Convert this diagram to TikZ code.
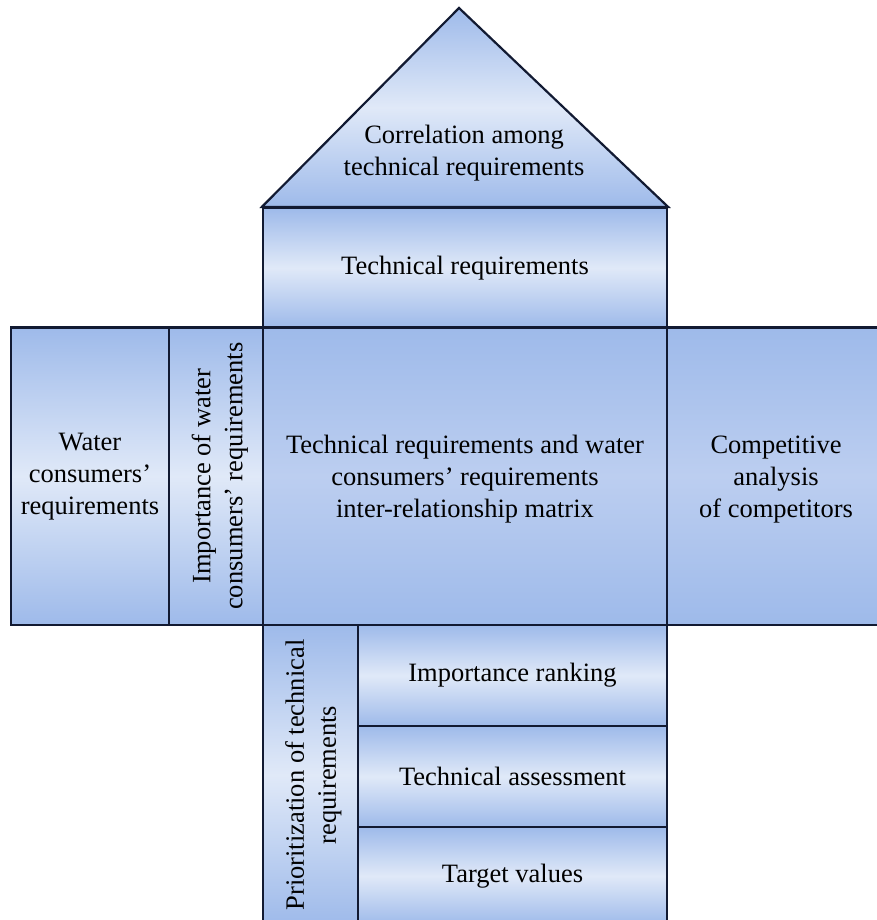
\documentclass[tikz,border=0pt]{standalone}
\usepackage{fontspec}
\setmainfont{Liberation Serif}
\definecolor{edgeblue}{RGB}{158,186,234}
\definecolor{lightblue}{RGB}{224,233,248}
\definecolor{midblue}{RGB}{188,206,240}
\definecolor{linecol}{RGB}{18,26,50}
\tikzset{
  base/.style={draw=linecol, line width=2.2pt, inner sep=0pt, align=center,
    font=\fontsize{26.5}{32}\selectfont},
  hbox/.style={base, top color=edgeblue, bottom color=edgeblue, middle color=lightblue},
  mbox/.style={base, top color=edgeblue, bottom color=edgeblue, middle color=midblue},
  vbox/.style={hbox, rotate=90},
  txt/.style={inner sep=0pt, align=center, font=\fontsize{26.5}{32}\selectfont},
}
\newcommand{\shiftlines}[2]{\raisebox{#1}[\height][\depth]{\begin{tabular}{@{}c@{}}#2\end{tabular}}}
\begin{document}
\begin{tikzpicture}[x=1pt,y=-1pt]
\useasboundingbox (0,0) rectangle (876,920);
% middle row
\node[hbox, minimum width=158pt, minimum height=297.5pt] (water) at (90,476.25) {Water\\consumers'\\requirements};
\node[vbox, minimum width=297.5pt, minimum height=94pt] (impw) at (216,476.25)
  {\shiftlines{-4pt}{Importance of water\\consumers' requirements}};
\node[mbox, minimum width=404pt, minimum height=297.5pt] (matrix) at (465,476.25)
  {\shiftlines{-3pt}{Technical requirements and water\\consumers' requirements\\inter-relationship matrix}};
\node[mbox, minimum width=218pt, minimum height=297.5pt] (comp) at (776,476.25)
  {\shiftlines{-3pt}{Competitive\\analysis\\of competitors}};
% top
\node[hbox, minimum width=404pt, minimum height=119.5pt] (tech) at (465,267.75) {Technical requirements};
\coordinate (apex) at (459,8);
\path[draw=linecol, line width=2.2pt, top color=edgeblue, bottom color=edgeblue, middle color=lightblue]
  (tech.north west) -- (apex) -- (tech.north east) -- cycle;
\node[txt] (roof) at (464,153) {Correlation among\\technical requirements};
% bottom
\node[vbox, minimum width=300pt, minimum height=95pt] (prio) at (310.5,775)
  {\shiftlines{-3pt}{Prioritization of technical\\requirements}};
\node[hbox, minimum width=309pt, minimum height=101pt] (rank) at (512.5,675.5) {Importance ranking};
\node[hbox, minimum width=309pt, minimum height=101pt] (assess) at (512.5,776.5) {Technical assessment};
\node[hbox, minimum width=309pt, minimum height=98pt] (target) at (512.5,876) {Target values};
\end{tikzpicture}
\end{document}
